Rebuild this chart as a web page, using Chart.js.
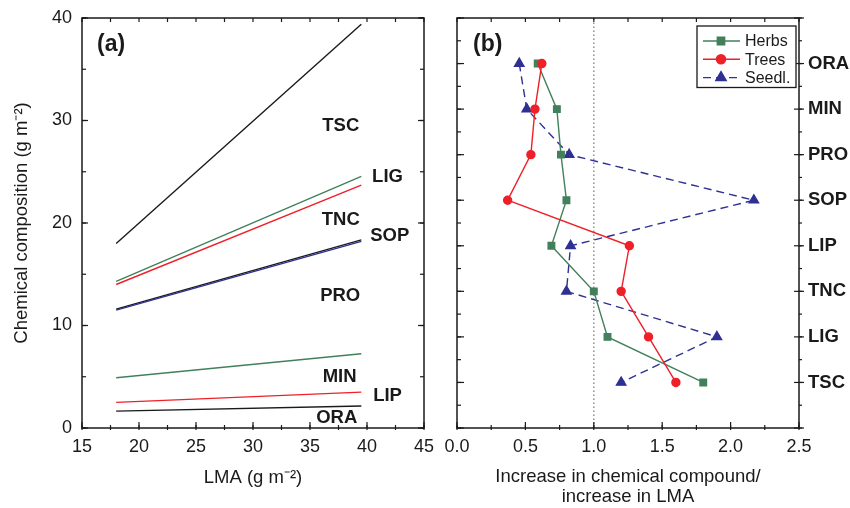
<!DOCTYPE html>
<html>
<head>
<meta charset="utf-8">
<script src="https://cdn.jsdelivr.net/npm/chart.js@4.4.1/dist/chart.umd.min.js"></script>
<style>
  html, body { margin: 0; padding: 0; background: #fff; }
  #wrap { position: relative; width: 850px; height: 508px; }
  #wrap canvas { position: absolute; left: 0; top: 0; }
</style>
</head>
<body>
<div id="wrap">
  <canvas id="lmaChart" width="850" height="508"></canvas>
  <canvas id="slopeChart" width="850" height="508"></canvas>
</div>
<script>
const FONT = "'Liberation Sans', Arial, Helvetica, sans-serif";
const INK = '#1a1a1a';
const GREEN = '#41805b';
const RED = '#ee2028';
const BLUE = '#2e3192';

// (a) fitted composition lines, value at each end of the LMA range
const lmaEnds = [18, 39.5];
const tscFit = [18.0, 39.4];
const ligFit = [14.3, 24.55];
const tncFit = [14.0, 23.7];
const sopFit = [11.6, 18.35];
const proFit = [11.5, 18.2];
const minFit = [4.9, 7.25];
const lipFit = [2.5, 3.5];
const oraFit = [1.65, 2.15];

// (b) slopes per compound, top to bottom
const compounds = ['ORA', 'MIN', 'PRO', 'SOP', 'LIP', 'TNC', 'LIG', 'TSC'];
const herbsSlope = [0.59, 0.73, 0.76, 0.80, 0.69, 1.00, 1.10, 1.80];
const treesSlope = [0.62, 0.57, 0.54, 0.37, 1.26, 1.20, 1.40, 1.60];
const seedlSlope = [0.455, 0.51, 0.82, 2.17, 0.83, 0.80, 1.90, 1.20];
const parity = 1.0;

const lmaTicks = [15, 20, 25, 30, 35, 40, 45];
const slopeTicks = [0, 0.5, 1, 1.5, 2, 2.5];

// where the line names sit in panel (a), in data units
const lineTags = [
  { text: 'TSC', x: 37.7, y: 29.5 },
  { text: 'LIG', x: 41.8, y: 24.5 },
  { text: 'TNC', x: 37.7, y: 20.3 },
  { text: 'SOP', x: 42.0, y: 18.7 },
  { text: 'PRO', x: 37.65, y: 12.85 },
  { text: 'MIN', x: 37.6, y: 5.0 },
  { text: 'LIP', x: 41.8, y: 3.1 },
  { text: 'ORA', x: 37.35, y: 0.95 }
];

const toPoints = fit => lmaEnds.map((x, i) => ({ x, y: fit[i] }));
const rowY = i => compounds.length - i;
const toRows = vals => vals.map((v, i) => ({ x: v, y: rowY(i) }));

// box around the plot area plus small inward tick marks
const framePlugin = {
  id: 'frame',
  afterDraw(chart, args, opts) {
    const { ctx, chartArea: a, scales } = chart;
    ctx.save();
    ctx.strokeStyle = INK;
    ctx.lineWidth = 1.5;
    ctx.strokeRect(a.left, a.top, a.right - a.left, a.bottom - a.top);
    ctx.lineWidth = 1.2;
    (opts.marks || []).forEach(m => {
      const horiz = m.side === 'top' || m.side === 'bottom';
      const scale = horiz ? scales.x : scales.y;
      for (let v = scale.min; v <= scale.max + 1e-9; v += m.step) {
        const p = scale.getPixelForValue(v);
        ctx.beginPath();
        if (m.side === 'bottom') { ctx.moveTo(p, a.bottom + m.out); ctx.lineTo(p, a.bottom - m.in); }
        if (m.side === 'top') { ctx.moveTo(p, a.top - m.out); ctx.lineTo(p, a.top + m.in); }
        if (m.side === 'left') { ctx.moveTo(a.left - m.out, p); ctx.lineTo(a.left + m.in, p); }
        if (m.side === 'right') { ctx.moveTo(a.right + m.out, p); ctx.lineTo(a.right - m.in, p); }
        ctx.stroke();
      }
    });
    ctx.restore();
  }
};

// bold text placed in data coordinates
const tagPlugin = {
  id: 'tags',
  afterDatasetsDraw(chart, args, opts) {
    const { ctx, scales: { x, y } } = chart;
    ctx.save();
    ctx.fillStyle = INK;
    ctx.textAlign = 'center';
    ctx.textBaseline = 'middle';
    (opts.items || []).forEach(t => {
      ctx.font = `bold ${t.size || 18.5}px ${FONT}`;
      ctx.fillText(t.text, x.getPixelForValue(t.x), y.getPixelForValue(t.y));
    });
    ctx.restore();
  }
};

// boxed legend with line + marker samples
const keyPlugin = {
  id: 'key',
  afterDraw(chart) {
    const { ctx, chartArea: a } = chart;
    const items = chart.data.datasets.filter(d => d.label);
    const boxR = a.right - 3, boxT = a.top + 8, boxW = 99, boxH = 61.5, rowH = 18.3;
    const boxL = boxR - boxW;
    ctx.save();
    ctx.fillStyle = '#fff';
    ctx.fillRect(boxL, boxT, boxW, boxH);
    ctx.strokeStyle = INK;
    ctx.lineWidth = 1.3;
    ctx.strokeRect(boxL, boxT, boxW, boxH);
    items.forEach((d, i) => {
      const cy = boxT + 15 + i * rowH;
      ctx.strokeStyle = d.borderColor;
      ctx.lineWidth = d.borderWidth;
      ctx.setLineDash(d.borderDash || []);
      ctx.beginPath();
      ctx.moveTo(boxL + 6, cy);
      ctx.lineTo(boxL + 43, cy);
      ctx.stroke();
      ctx.setLineDash([]);
      ctx.fillStyle = d.pointBackgroundColor;
      ctx.strokeStyle = d.pointBorderColor;
      Chart.helpers.drawPoint(ctx, {
        pointStyle: d.pointStyle, radius: d.pointRadius + 0.6, borderWidth: 1, rotation: 0
      }, boxL + 24, cy);
      ctx.fillStyle = INK;
      ctx.font = `16px ${FONT}`;
      ctx.textAlign = 'left';
      ctx.textBaseline = 'middle';
      ctx.fillText(d.label, boxL + 48, cy + 1);
    });
    ctx.restore();
  }
};

const tickFont = { family: FONT, size: 18 };
const titleFont = { family: FONT, size: 18.5, lineHeight: 1.08 };

const fitLine = (fit, color) => ({
  data: toPoints(fit),
  borderColor: color,
  borderWidth: 1.4,
  pointRadius: 0
});

new Chart(document.getElementById('lmaChart'), {
  type: 'line',
  data: {
    datasets: [
      fitLine(tscFit, INK),
      fitLine(ligFit, GREEN),
      fitLine(tncFit, RED),
      fitLine(proFit, BLUE),
      fitLine(sopFit, INK),
      fitLine(minFit, GREEN),
      fitLine(lipFit, RED),
      fitLine(oraFit, INK)
    ]
  },
  options: {
    responsive: false,
    animation: false,
    layout: { padding: { left: 0, top: 18, right: 426, bottom: 0 } },
    plugins: {
      legend: { display: false },
      tooltip: { enabled: false },
      frame: {
        marks: [
          { side: 'bottom', step: 2.5, in: 3, out: 2 },
          { side: 'bottom', step: 5, in: 6, out: 0 },
          { side: 'top', step: 2.5, in: 4, out: 0 },
          { side: 'left', step: 5, in: 4, out: 0 },
          { side: 'left', step: 10, in: 6, out: 0 },
          { side: 'right', step: 5, in: 4, out: 0 },
          { side: 'right', step: 10, in: 6, out: 0 }
        ]
      },
      tags: { items: lineTags.concat([{ text: '(a)', x: 17.55, y: 37.4, size: 23 }]) }
    },
    scales: {
      x: {
        type: 'linear',
        min: lmaTicks[0],
        max: lmaTicks[lmaTicks.length - 1],
        afterBuildTicks: s => { s.ticks = lmaTicks.map(value => ({ value })); },
        afterFit: s => { s.height = 80; },
        grid: { display: false },
        border: { display: false },
        ticks: { font: tickFont, color: INK, padding: 0, maxRotation: 0 },
        title: { display: true, text: 'LMA (g m⁻²)', font: titleFont, color: INK, padding: { top: 0, bottom: 20 } }
      },
      y: {
        type: 'linear',
        min: 0,
        max: 40,
        ticks: { stepSize: 10, font: tickFont, color: INK, padding: 2 },
        afterFit: s => { s.width = 82; },
        grid: { display: false },
        border: { display: false },
        title: { display: true, text: 'Chemical composition (g m⁻²)', font: titleFont, color: INK, padding: { top: 12, bottom: 0 } }
      }
    }
  },
  plugins: [tagPlugin, framePlugin]
});

new Chart(document.getElementById('slopeChart'), {
  type: 'line',
  data: {
    datasets: [
      {
        label: 'Herbs',
        data: toRows(herbsSlope),
        borderColor: GREEN,
        borderWidth: 1.4,
        pointStyle: 'rect',
        pointRadius: 4.6,
        pointBackgroundColor: GREEN,
        pointBorderColor: GREEN,
        order: 1
      },
      {
        label: 'Trees',
        data: toRows(treesSlope),
        borderColor: RED,
        borderWidth: 1.4,
        pointStyle: 'circle',
        pointRadius: 4,
        pointBackgroundColor: RED,
        pointBorderColor: RED,
        order: 0
      },
      {
        label: 'Seedl.',
        data: toRows(seedlSlope),
        borderColor: BLUE,
        borderWidth: 1.4,
        borderDash: [8, 5],
        pointStyle: 'triangle',
        pointRadius: 5.4,
        pointBackgroundColor: BLUE,
        pointBorderColor: BLUE,
        order: 2
      },
      {
        data: [{ x: parity, y: 0 }, { x: parity, y: compounds.length + 1 }],
        borderColor: '#8a8a8a',
        borderWidth: 1.4,
        borderDash: [1.5, 2.5],
        pointRadius: 0,
        order: 3
      }
    ]
  },
  options: {
    responsive: false,
    animation: false,
    layout: { padding: { left: 457, top: 18, right: 0, bottom: 0 } },
    plugins: {
      legend: { display: false },
      tooltip: { enabled: false },
      frame: {
        marks: [
          { side: 'bottom', step: 0.25, in: 3, out: 2 },
          { side: 'bottom', step: 0.5, in: 6, out: 0 },
          { side: 'top', step: 0.25, in: 4, out: 0 },
          { side: 'left', step: 0.5, in: 4, out: 0 },
          { side: 'left', step: 1, in: 7, out: 0 },
          { side: 'right', step: 0.5, in: 0, out: 3 },
          { side: 'right', step: 1, in: 5, out: 5 }
        ]
      },
      tags: { items: [{ text: '(b)', x: 0.225, y: 8.41, size: 23 }] }
    },
    scales: {
      x: {
        type: 'linear',
        min: slopeTicks[0],
        max: slopeTicks[slopeTicks.length - 1],
        afterBuildTicks: s => { s.ticks = slopeTicks.map(value => ({ value })); },
        afterFit: s => { s.height = 80; },
        grid: { display: false },
        border: { display: false },
        ticks: { font: tickFont, color: INK, padding: 0, maxRotation: 0, callback: v => v.toFixed(1) },
        title: {
          display: true,
          text: ['Increase in chemical compound/', 'increase in LMA'],
          font: titleFont, color: INK, padding: { top: 0, bottom: 1 }
        }
      },
      y: {
        type: 'linear',
        position: 'right',
        min: 0,
        max: compounds.length + 1,
        afterBuildTicks: s => { s.ticks = compounds.map((c, i) => ({ value: rowY(i) })); },
        afterFit: s => { s.width = 51; },
        grid: { display: false },
        border: { display: false },
        ticks: {
          font: { family: FONT, size: 18.5, weight: 'bold' },
          color: INK,
          padding: 1,
          callback: v => compounds[compounds.length - v]
        }
      }
    }
  },
  plugins: [tagPlugin, framePlugin, keyPlugin]
});
</script>
</body>
</html>
